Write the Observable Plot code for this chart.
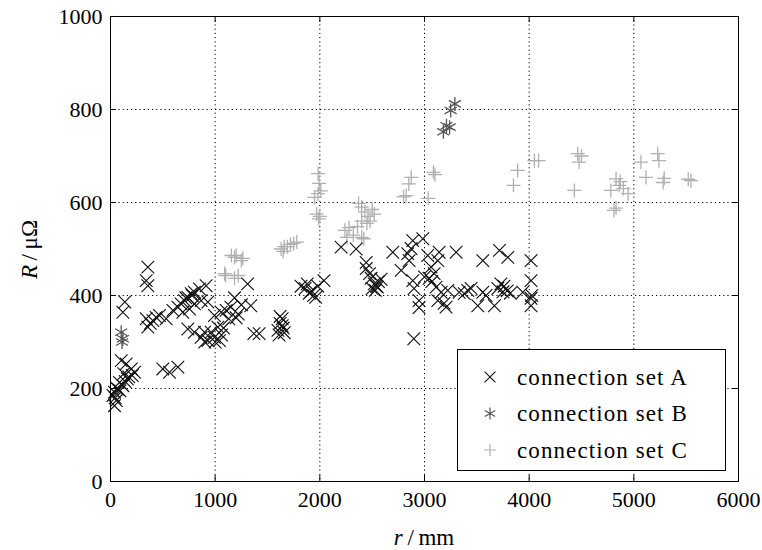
<!DOCTYPE html>
<html>
<head>
<meta charset="utf-8">
<script src="https://cdn.jsdelivr.net/npm/d3@7"></script>
<script src="https://cdn.jsdelivr.net/npm/@observablehq/plot@0.6"></script>
<style>
  html, body { margin: 0; padding: 0; background: #fff; }
  #chart svg { display: block; }
  #chart svg text { font-family: "Liberation Serif", "Times New Roman", serif !important; }
</style>
</head>
<body>
<div id="chart"></div>
<script>
// ---- data ----
const setA_r = [103,150,198,230,127,160,208,86,118,70,38,23,55,38,60,90,140,175,45,
  137,118, 357,341,357, 341,357,405,436,468,532,380, 500,564,644,
  596,644,675,707,739,771,802,850,914,691,755,802,866,720,780,
  739,802,866,930,993,898,1026,962,1041,900,1000,1060,1080,
  930,993,1057,1105,1150,1185,1220,1250,1200,1130,
  1310,1340,1370,1420,
  1600,1620,1640,1650,1660,1620,1610,1640,
  1820,1860,1900,1940,1880,1920,1980,2040,1960,
  2203,2347,2443,2443,2475,2490,2520,2540,2560,2500,2530,2585,2550,
  2697,2777,2840,2888,2984,2872,2853,2888,2900,2948,2948,2898,
  3031,3063,3092,3044,3127,3140,3111,3159,3127,3187,3206,3222,3000,3070,
  3302,3331,3413,3445,3380,3509,3557,3557,3588,3668,3716,3796,
  3700,3730,3760,3790,3820,3750,3939,
  4018,4018,4025,4018,4018];
const setA_R = [260,253,242,235,232,221,228,213,206,199,192,185,174,163,200,195,215,225,180,
  386,364, 461,432,421, 350,332,346,353,357,350,340, 242,235,246,
  368,375,382,389,396,404,407,414,421,364,371,382,389,395,400,
  328,321,310,303,310,321,332,321,303,300,300,315,330,
  386,357,364,368,375,395,360,380,352,350,
  425,378,318,318,
  325,340,350,330,320,355,315,335,
  420,415,405,400,425,410,420,432,396,
  504,500,471,458,447,437,425,420,430,415,411,435,418,
  493,454,490,518,522,501,475,432,415,389,374,307,
  486,461,447,437,475,493,418,407,389,383,375,411,440,430,
  493,407,411,415,404,378,475,407,400,378,497,482,
  415,425,420,410,405,408,407,
  475,432,400,394,378];

const setB_r = [102,118,110,3290,3250,3240,3180,3210];
const setB_R = [321,307,300,812,798,762,752,765];

const setC_r = [1185,1200,1265,1155,1100,1185,1220,1090,1250,
  1630,1660,1690,1720,1750,1780,1650,
  1983,1993,1983,1950,2010,2000,1990,1970,
  2240,2280,2320,2360,2400,2420,2370,2400,2430,2460,2500,2520,2450,2480,2400,2260,
  2800,2825,2850,2873,3035,3085,3100,
  3850,3890,4050,4090,
  4464,4477,4432,4500,
  4830,4860,4780,4900,4945,4810,4830,4870,
  5068,5116,5228,5240,5290,5280,5546,5520];
const setC_R = [482,486,480,486,443,437,443,447,475,
  500,505,505,510,512,515,495,
  662,641,619,611,625,570,565,575,
  540,546,530,548,525,522,598,590,580,570,585,575,555,560,560,525,
  612,615,640,654,609,665,660,
  637,669,690,690,
  705,687,626,700,
  651,637,626,630,619,583,588,645,
  687,654,705,690,652,643,647,650];

const seriesNames = ["connection set A", "connection set B", "connection set C"];
const xTicks = [0, 1000, 2000, 3000, 4000, 5000, 6000];
const yTicks = [0, 200, 400, 600, 800, 1000];

// ---- build tables ----
const toRows = (rs, Rs) => rs.map((r, i) => ({r, R: Rs[i]}));
const A = toRows(setA_r, setA_R);
const B = toRows(setB_r, setB_R);
const C = toRows(setC_r, setC_R);

const W = 762, H = 550;
const mL = 110, mR = 24, mT = 16, mB = 69;
const iW = W - mL - mR, iH = H - mT - mB;
const tickLen = 6;
const font = `"Liberation Serif", "Times New Roman", serif`;

const colA = "#111111", colB = "#555555", colC = "#b0b0b0";
const rA = 5.8, rB = 6.6, rC = 4.6;

const chart = Plot.plot({
  width: W, height: H,
  marginLeft: mL, marginRight: mR, marginTop: mT, marginBottom: mB,
  x: {domain: [0, 6000]},
  y: {domain: [0, 1000]},
  style: {fontFamily: font, fontSize: "22px", color: "#000", background: "#fff", overflow: "visible"},
  marks: [
    Plot.gridX(xTicks.slice(1, -1), {stroke: "#000", strokeOpacity: 1, strokeWidth: 1, strokeDasharray: "1.2,3"}),
    Plot.gridY(yTicks.slice(1, -1), {stroke: "#000", strokeOpacity: 1, strokeWidth: 1, strokeDasharray: "1.2,3"}),
    Plot.dot(C, {x: "r", y: "R", symbol: "plus", r: rC, stroke: colC, strokeWidth: 1.3}),
    Plot.dot(A, {x: "r", y: "R", symbol: "times", r: rA, stroke: colA, strokeWidth: 1.15}),
    Plot.dot(B, {x: "r", y: "R", symbol: "asterisk", r: rB, stroke: colB, strokeWidth: 1.3}),
    // inward ticks on all four sides
    Plot.ruleX(xTicks, {stroke: "#000", insetTop: iH - tickLen}),
    Plot.ruleX(xTicks, {stroke: "#000", insetBottom: iH - tickLen}),
    Plot.ruleY(yTicks, {stroke: "#000", insetRight: iW - tickLen}),
    Plot.ruleY(yTicks, {stroke: "#000", insetLeft: iW - tickLen}),
    Plot.axisX({ticks: xTicks, tickSize: 0, tickPadding: 10, label: null, fontSize: 22, tickFormat: d => String(d)}),
    Plot.axisY({ticks: yTicks, tickSize: 0, tickPadding: 8, label: null, fontSize: 22, tickFormat: d => String(d)}),
    Plot.frame({stroke: "#000", strokeWidth: 1})
  ]
});

document.getElementById("chart").appendChild(chart);

const svg = d3.select(chart);

// axis labels
const yl = svg.append("text")
  .attr("transform", `translate(29,${mT + iH / 2 + 1}) rotate(-90)`)
  .attr("text-anchor", "middle")
  .attr("dominant-baseline", "central")
  .style("font-size", "23px").attr("fill", "#000");
yl.append("tspan").attr("font-style", "italic").text("R");
yl.append("tspan").text("\u2009/\u2009μΩ");

const xl = svg.append("text")
  .attr("x", mL + iW / 2)
  .attr("y", 537)
  .attr("text-anchor", "middle")
  .attr("dominant-baseline", "central")
  .style("font-size", "23px").attr("fill", "#000");
xl.append("tspan").attr("font-style", "italic").text("r");
xl.append("tspan").text("\u2009/\u2009mm");

// legend
const lg = svg.append("g");
lg.append("rect").attr("x", 457.5).attr("y", 349.5).attr("width", 268).attr("height", 121)
  .attr("fill", "#fff").attr("stroke", "#000").attr("stroke-width", 1);
const legendItems = [
  {name: seriesNames[0], sym: d3.symbolTimes, size: Math.PI * rA * rA * 0.75, col: colA, sw: 1.1},
  {name: seriesNames[1], sym: d3.symbolAsterisk, size: Math.PI * rB * rB * 0.75, col: colB, sw: 1.2},
  {name: seriesNames[2], sym: d3.symbolPlus, size: Math.PI * rC * rC * 0.75, col: colC, sw: 1.2}
];
const rowsY = [377, 413.5, 450];
legendItems.forEach((it, i) => {
  lg.append("path").attr("d", d3.symbol(it.sym, it.size)())
    .attr("transform", `translate(490,${rowsY[i]})`)
    .attr("fill", "none").attr("stroke", it.col).attr("stroke-width", it.sw);
  lg.append("text").attr("x", 517).attr("y", rowsY[i])
    .attr("text-anchor", "start")
    .attr("dominant-baseline", "central")
    .style("font-size", "23px").style("letter-spacing", "1.1px")
    .attr("fill", "#000").text(it.name);
});
</script>
</body>
</html>
